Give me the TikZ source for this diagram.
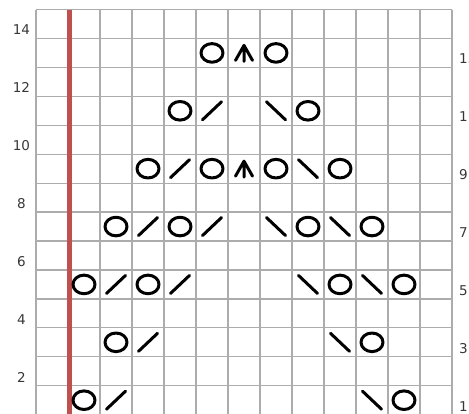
\documentclass[tikz,border=0pt]{standalone}
\usepackage{fontspec}
\setmainfont{DejaVu Sans}
\definecolor{gridgray}{RGB}{172,172,172}
\definecolor{edgered}{RGB}{192,80,77}
\definecolor{labelgray}{RGB}{55,55,55}
\tikzset{
  gridline/.style={draw=gridgray, line width=1.2pt},
  edgeline/.style={draw=edgered, line width=4.5pt},
  stitch/.style={draw=black, line width=3pt, line cap=round, line join=round},
  rowlabel/.style={text=labelgray, inner sep=0pt, font=\fontsize{13.5}{16}\selectfont},
  yo/.pic={\draw[stitch] (0,0) ellipse[x radius=11, y radius=9.3];},
  ktog/.pic={\draw[stitch] (-9.5,9) -- (9.5,-9);},
  sskd/.pic={\draw[stitch] (-9.5,-9) -- (9.5,9);},
  cdd/.pic={\draw[stitch] (-8.5,7.5) -- (0,-7.5) -- (8.5,7.5) (0,-7.5) -- (0,8.5);}
}
\begin{document}
\begin{tikzpicture}[x=1pt,y=-1pt]
\useasboundingbox (0,0) rectangle (469,413);
\clip (0,0) rectangle (469,413);
% grid
\foreach \i in {0,...,13} \draw[gridline] ({36+32*\i},9.5) -- ({36+32*\i},416);
\foreach \j in {0,...,14} \draw[gridline] (36,{9.5+28.94*\j}) -- (452,{9.5+28.94*\j});
% edge line
\draw[edgeline] (69.5,9.5) -- (69.5,416);
% row labels
\foreach \r in {2,4,...,14}
  \node[rowlabel, anchor=base] (l\r) at (21.5,{9.5+(14-\r)*28.94+14.47+11}) {\r};
\foreach \r in {1,3,...,13}
  \node[rowlabel, anchor=base west] (l\r) at (459,{9.5+(14-\r)*28.94+14.47+11}) {\r};
% stitches
\foreach \r/\c/\t in {
  13/5/yo, 13/6/cdd, 13/7/yo,
  11/4/yo, 11/5/ktog, 11/7/sskd, 11/8/yo,
  9/3/yo, 9/4/ktog, 9/5/yo, 9/6/cdd, 9/7/yo, 9/8/sskd, 9/9/yo,
  7/2/yo, 7/3/ktog, 7/4/yo, 7/5/ktog, 7/7/sskd, 7/8/yo, 7/9/sskd, 7/10/yo,
  5/1/yo, 5/2/ktog, 5/3/yo, 5/4/ktog, 5/8/sskd, 5/9/yo, 5/10/sskd, 5/11/yo,
  3/2/yo, 3/3/ktog, 3/9/sskd, 3/10/yo,
  1/1/yo, 1/2/ktog, 1/10/sskd, 1/11/yo}
  \pic at ({52+32*\c},{9.5+(14-\r)*28.94+14.47}) {\t};
\end{tikzpicture}
\end{document}
